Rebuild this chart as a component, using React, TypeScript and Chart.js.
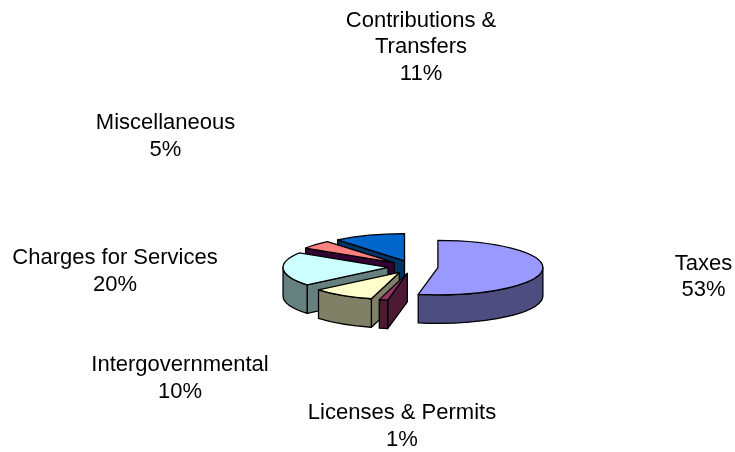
import React, { useEffect, useRef } from "react";
import { Chart, registerables } from "chart.js";

Chart.register(...registerables);

const categories = ["Taxes", "Licenses & Permits", "Intergovernmental", "Charges for Services", "Miscellaneous", "Contributions & Transfers"];
const shares = [53, 1.3, 9.7, 20, 5, 11];
const percentLabels = ["53%", "1%", "10%", "20%", "5%", "11%"];
const topColors = ["#9999FF", "#993366", "#FFFFCC", "#CCFFFF", "#FF8080", "#0066CC"];
const sideColors = ["#4D4D80", "#4D1A33", "#808066", "#668080", "#330033", "#003366"];
const labelLines = [["Taxes"], ["Licenses & Permits"], ["Intergovernmental"], ["Charges for Services"], ["Miscellaneous"], ["Contributions &", "Transfers"]];

const TILT = 0.26;
const DEPTH = 28.5;
const EXPLODE = 25;
const LABEL_CENTERS: [number, number][] = [[703.5, 277], [402, 426.5], [180, 378.5], [115, 271.5], [165.5, 136.5], [421, 47]];

const pie3d = {
  id: "pie3d",
  beforeDatasetsDraw(chart: any) {
    const ctx = chart.ctx;
    const meta = chart.getDatasetMeta(0);
    const cy = chart.chartArea.top + chart.chartArea.height / 2;
    const mid = (el: any) => (el.startAngle + el.endAngle) / 2;
    const sx = (el: any) => el.x + Math.cos(mid(el)) * EXPLODE;
    const sy = (el: any) => cy + Math.sin(mid(el)) * EXPLODE * TILT;
    const order = meta.data.map((_: any, i: number) => i).sort((a: number, b: number) => sy(meta.data[a]) - sy(meta.data[b]));

    ctx.save();
    ctx.lineWidth = 1.3;
    ctx.strokeStyle = "#000";
    ctx.lineJoin = "round";
    for (const i of order) {
      const el = meta.data[i];
      const r = el.outerRadius;
      const x = sx(el), y = sy(el);
      ctx.fillStyle = sideColors[i];
      const pt = (a: number) => [x + Math.cos(a) * r, y + Math.sin(a) * r * TILT];
      const wall = (a: number) => {
        const p = pt(a);
        ctx.beginPath();
        ctx.moveTo(x, y);
        ctx.lineTo(p[0], p[1]);
        ctx.lineTo(p[0], p[1] + DEPTH);
        ctx.lineTo(x, y + DEPTH);
        ctx.closePath();
        ctx.fill();
        ctx.stroke();
      };
      if (Math.cos(el.startAngle) < 0) wall(el.startAngle);
      if (Math.cos(el.endAngle) > 0) wall(el.endAngle);
      const a0 = Math.max(el.startAngle, 0);
      const a1 = Math.min(el.endAngle, Math.PI);
      if (a1 > a0) {
        ctx.beginPath();
        ctx.ellipse(x, y, r, r * TILT, 0, a0, a1);
        ctx.ellipse(x, y + DEPTH, r, r * TILT, 0, a1, a0, true);
        ctx.closePath();
        ctx.fill();
        ctx.stroke();
      }
    }
    ctx.restore();

    meta.data.forEach((el: any) => {
      ctx.save();
      ctx.translate(sx(el), sy(el));
      ctx.scale(1, TILT);
      ctx.translate(-el.x, -el.y);
      el.draw(ctx, chart.chartArea);
      ctx.restore();
    });

    ctx.save();
    ctx.lineWidth = 1.3;
    ctx.strokeStyle = "#000";
    ctx.lineJoin = "round";
    meta.data.forEach((el: any) => {
      const x = sx(el), y = sy(el);
      const r = el.outerRadius;
      ctx.beginPath();
      ctx.moveTo(x, y);
      ctx.ellipse(x, y, r, r * TILT, 0, el.startAngle, el.endAngle);
      ctx.closePath();
      ctx.stroke();
    });
    ctx.restore();
    return false;
  },
  afterDraw(chart: any) {
    const ctx = chart.ctx;
    ctx.save();
    ctx.fillStyle = "#000";
    ctx.font = '22px "Liberation Sans"';
    ctx.textAlign = "center";
    ctx.textBaseline = "middle";
    categories.forEach((_, i) => {
      const lines = [...labelLines[i], percentLabels[i]];
      const [cx, cyy] = LABEL_CENTERS[i];
      lines.forEach((t, j) => ctx.fillText(t, cx, cyy + (j - (lines.length - 1) / 2) * 26.5));
    });
    ctx.restore();
  },
};

export default function App() {
  const ref = useRef<HTMLCanvasElement>(null);
  useEffect(() => {
    const chart = new Chart(ref.current!, {
      type: "pie",
      data: {
        labels: categories,
        datasets: [{ data: shares, backgroundColor: topColors, borderWidth: 0 } as any],
      },
      options: {
        responsive: false,
        animation: false,
        radius: 105,
        layout: { padding: { left: 91, right: 0, top: 82, bottom: 0 } },
        plugins: { legend: { display: false }, title: { display: false }, tooltip: { enabled: false } },
      } as any,
      plugins: [pie3d],
    });
    return () => chart.destroy();
  }, []);
  return <canvas ref={ref} width={735} height={452} style={{ position: "absolute", left: 0, top: 0, display: "block" }} />;
}
